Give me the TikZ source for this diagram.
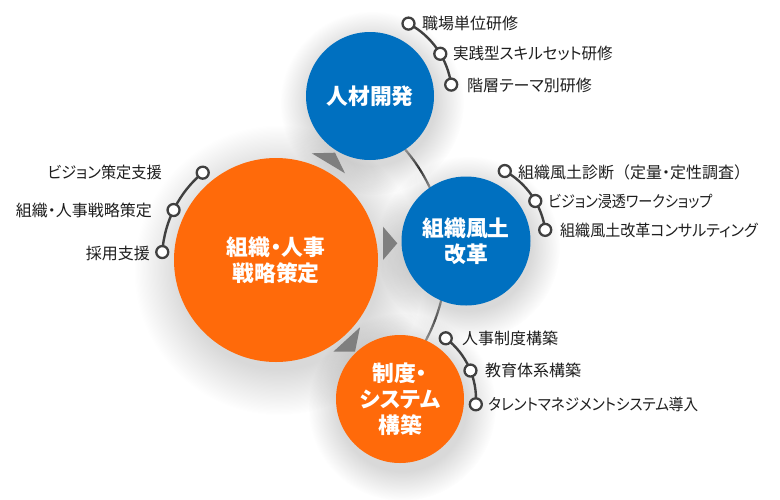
\documentclass[tikz,border=0pt]{standalone}
\usepackage{fontspec}
\setmainfont{Noto Sans CJK JP}[RawFeature=+palt]
\newfontfamily\fw{Noto Sans CJK JP}
\usetikzlibrary{fadings,calc}
\definecolor{orng}{HTML}{FF6A0A}
\definecolor{blu}{HTML}{0070C0}
\definecolor{dgray}{HTML}{404040}
\definecolor{agray}{HTML}{7F7F7F}
\definecolor{txt}{HTML}{1E1E1E}
\newcommand{\sqz}[2]{\scalebox{#1}[1]{#2}}
\pgfdeclareradialshading{glowshade}{\pgfpointorigin}{color(0bp)=(pgftransparent!0); color(17bp)=(pgftransparent!0); color(25bp)=(pgftransparent!100); color(50bp)=(pgftransparent!100)}
\pgfdeclarefading{glow}{\pgfuseshading{glowshade}}
\tikzset{
  hub/.style={circle, inner sep=0pt, text=white, align=center,
    font=\fontsize{21.8}{26}\selectfont\bfseries},
  shadowc/.style={fill=black, opacity=0.15, path fading=glow},
  bullet/.style={circle, draw=dgray, line width=2.3pt, fill=white, minimum size=12pt, inner sep=0pt},
  listarc/.style={draw=dgray, line width=2.4pt},
  item/.style={inner sep=0pt, text=txt, font=\fontsize{16}{18}\selectfont},
  wedge/.style={fill=agray, draw=none}
}
\begin{document}
\begin{tikzpicture}[x=1pt,y=1pt]
\useasboundingbox (0,0) rectangle (780,-499);
\fill[white] (0,0) rectangle (780,-499);
% centres
\coordinate (cB) at (276,-260);
\coordinate (cT) at (370,-96);
\coordinate (cR) at (466,-241);
\coordinate (cS) at (400,-399);
% soft shadows
\fill[shadowc] ($(cB)+(3,-10)$) circle (145);
\fill[shadowc] ($(cT)+(2,-7)$) circle (92);
\fill[shadowc] ($(cR)+(2,-7)$) circle (92);
\fill[shadowc] ($(cS)+(2,-8)$) circle (94);
% ring arc behind the circles
\foreach \a in {-50,...,61}{
  \pgfmathsetmacro\p{(\a>5) ? 82-45*min(abs(\a+0.5-32.5)/9,1) : 68-25*min(abs(\a+0.5+20.4)/8,1)}
  \draw[line width=2.2pt, color=black!\p!white] ($(cB)+(\a:170)$) arc[start angle=\a, end angle=\a+1.1, radius=170];
}
% wedges
\fill[wedge] (311.7,-153.3) -- (335,-152.7) -- (345,-173.3) -- cycle;
\fill[wedge] (383,-226.7) -- (397.3,-243.3) -- (383,-260) -- cycle;
\fill[wedge] (360,-327.3) -- (355,-351.7) -- (333.3,-351.7) -- cycle;
% main circles
\node[hub, fill=orng, minimum size=204pt] (big) at (cB) {組織・人事\\戦略策定};
\node[hub, fill=blu, minimum size=128pt] (top) at (cT) {人材開発};
\node[hub, fill=blu, minimum size=129pt] (right) at (cR) {組織風土\\改革};
\node[hub, fill=orng, minimum size=128pt] (bot) at (cS) {制度・\\システム\\構築};
% ---- list: top
\coordinate (a1) at ($(cT)+(62:82)$);
\coordinate (a2) at ($(cT)+(31:82)$);
\coordinate (a3) at ($(cT)+(8:82)$);
\draw[listarc] (a1) arc[start angle=62, end angle=8, radius=82];
\node[bullet] (ba1) at (a1) {};
\node[bullet] (ba2) at (a2) {};
\node[bullet] (ba3) at (a3) {};
\node[item, anchor=west] (ta1) at (422,-23) {職場単位研修};
\node[item, anchor=west] (ta2) at (453,-53) {\sqz{0.97}{実践型スキルセット研修}};
\node[item, anchor=west] (ta3) at (467,-85) {階層テーマ別研修};
% ---- list: right
\coordinate (b1) at ($(cR)+(61:80)$);
\coordinate (b2) at ($(cR)+(30:80)$);
\coordinate (b3) at ($(cR)+(8:80)$);
\draw[listarc] (b1) arc[start angle=61, end angle=8, radius=80];
\node[bullet] (bb1) at (b1) {};
\node[bullet] (bb2) at (b2) {};
\node[bullet] (bb3) at (b3) {};
\node[item, anchor=west] (tb1) at (518,-172) {組織風土診断{\fw （}定量・定性調査{\fw ）}};
\node[item, anchor=west] (tb2) at (548,-201) {\sqz{0.88}{ビジョン浸透ワークショップ}};
\node[item, anchor=west] (tb3) at (560,-230) {\sqz{0.94}{組織風土改革コンサルティング}};
% ---- list: bottom
\coordinate (c1) at ($(cS)+(53:76)$);
\coordinate (c2) at ($(cS)+(22:76)$);
\coordinate (c3) at ($(cS)+(-4:76)$);
\draw[listarc] (c1) arc[start angle=53, end angle=-4, radius=76];
\node[bullet] (bc1) at (c1) {};
\node[bullet] (bc2) at (c2) {};
\node[bullet] (bc3) at (c3) {};
\node[item, anchor=west] (tc1) at (462,-338) {人事制度構築};
\node[item, anchor=west] (tc2) at (485,-370) {教育体系構築};
\node[item, anchor=west] (tc3) at (488,-404) {\sqz{0.91}{タレントマネジメントシステム導入}};
% ---- list: left
\coordinate (d1) at ($(cB)+(130:114)$);
\coordinate (d2) at ($(cB)+(154:114)$);
\coordinate (d3) at ($(cB)+(176:114)$);
\draw[listarc] (d1) arc[start angle=130, end angle=176, radius=114];
\node[bullet] (bd1) at (d1) {};
\node[bullet] (bd2) at (d2) {};
\node[bullet] (bd3) at (d3) {};
\node[item, anchor=east] (td1) at (162,-172) {\sqz{0.95}{ビジョン策定支援}};
\node[item, anchor=east] (td2) at (152,-210) {組織・人事戦略策定};
\node[item, anchor=east] (td3) at (150,-253) {採用支援};
\end{tikzpicture}
\end{document}
